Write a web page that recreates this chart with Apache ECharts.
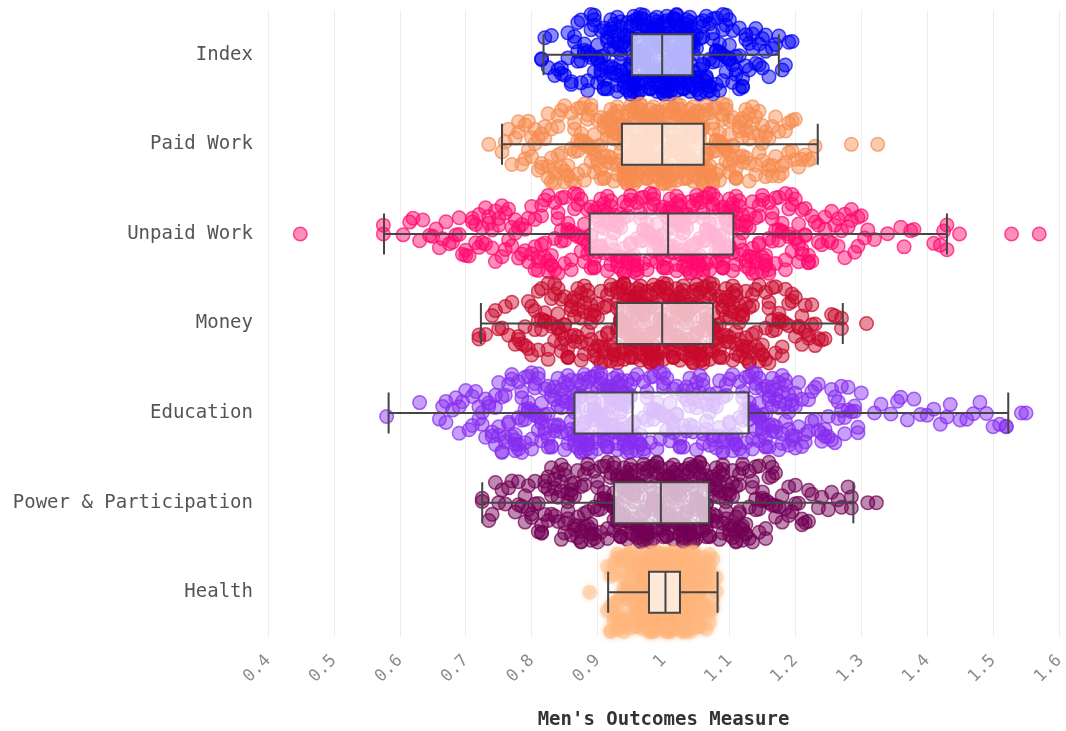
<!DOCTYPE html>
<html><head><meta charset="utf-8">
<script src="https://cdn.jsdelivr.net/npm/echarts@6/dist/echarts.min.js"></script>
<style>html,body{margin:0;padding:0;background:#fff}#c{width:1066px;height:731px}</style>
</head><body><div id="c"></div><script>
// ---- data ----
const CATEGORIES = ['Index', 'Paid Work', 'Unpaid Work', 'Money', 'Education', 'Power & Participation', 'Health'];
const X_TITLE = "Men's Outcomes Measure";

// box statistics per category (min whisker, Q1, median, Q3, max whisker)
const WHISKER_LOW  = [0.818, 0.755, 0.576, 0.723, 0.583, 0.725, 0.916];
const Q1           = [0.952, 0.937, 0.888, 0.929, 0.865, 0.925, 0.978];
const MEDIAN       = [0.998, 0.998, 1.007, 0.998, 0.953, 0.996, 1.003];
const Q3           = [1.044, 1.061, 1.106, 1.075, 1.129, 1.069, 1.025];
const WHISKER_HIGH = [1.175, 1.234, 1.430, 1.272, 1.523, 1.288, 1.082];

// observations, read as counts of points per 0.005-wide value step, from a start value,
// plus isolated outlying observations
const STEP = 0.005;
const INDEX_START = 0.815;
const INDEX_COUNTS = [2,1,1,1,1,1,2,1,2,2,2,3,3,3,3,4,4,4,5,5,5,5,6,6,6,6,6,
 9,9,9,9,9,9,9,9,9,9,
 10,10,10,10,10,10,10,10,10,
 6,6,6,6,5,5,5,5,4,4,4,4,3,3,3,3,3,2,2,2,2,2,2,1,1,1,1,1,1,1,1];
const INDEX_OUTLIERS = [];

const PAID_WORK_START = 0.755;
const PAID_WORK_COUNTS = [1,1,1,1,1,2,1,2,2,2,2,2,3,2,3,3,3,3,3,3,3,3,4,4,4,4,4,4,4,4,4,5,5,5,5,5,5,
 9,9,9,9,9,9,9,9,9,9,9,9,
 8,8,8,8,8,8,8,8,8,8,8,8,8,
 6,6,6,5,5,5,5,5,4,4,4,4,4,4,3,3,3,3,3,3,3,2,2,2,2,2,2,2,1,1,1,1,1,1];
const PAID_WORK_OUTLIERS = [0.735, 1.285, 1.325];

const UNPAID_WORK_START = 0.575;
const UNPAID_WORK_COUNTS = [2,0,0,0,0,0,1,0,1,1,0,1,1,0,1,1,1,1,1,1,1,1,1,
 2,1,2,1,2,2,2,2,2,2,2,2,
 2,2,2,2,2,2,2,2,2,2,2,
 3,3,3,3,3,3,3,3,3,3,3,3,3,3,3,3,3,
 5,4,5,4,5,4,5,4,5,4,5,4,5,4,5,4,5,4,5,4,5,4,5,4,
 6,5,6,5,6,5,6,5,6,5,6,5,6,5,6,5,6,5,6,5,
 4,4,4,4,4,4,4,4,4,4,4,
 3,3,3,3,3,3,3,3,3,3,3,3,
 2,1,2,1,2,1,2,1,2,1,2,1,2,1,2,1,
 1,1,0,1,0,0,0,1,0,0,0,1,1,0,1,1,0,0,0,0,0,1,0,1,1,2];
const UNPAID_WORK_OUTLIERS = [0.449, 1.449, 1.528, 1.57];

const MONEY_START = 0.72;
const MONEY_COUNTS = [2,0,1,0,1,1,1,1,1,1,1,1,
 2,1,2,2,2,2,
 3,3,3,3,3,3,
 4,4,4,4,4,4,4,4,
 4,4,4,4,4,4,4,4,4,4,
 8,8,8,8,8,8,8,8,8,8,8,8,8,8,
 7,7,7,7,7,7,7,7,7,7,7,7,7,7,7,7,
 5,5,5,5,5,5,5,5,5,5,5,
 3,3,3,3,3,3,3,3,3,3,
 2,2,2,2,2,2,2,2,2,2,
 1,1,1,0,1,1,0,2];
const MONEY_OUTLIERS = [1.308];

const EDUCATION_START = 0.58;
const EDUCATION_COUNTS = [1,0,0,0,0,0,0,0,0,0,1,0,0,0,0,0,
 1,1,2,0,1,1,2,1,1,1,2,1,2,2,2,2,2,
 3,3,3,3,3,3,
 4,4,4,4,4,4,4,4,4,4,4,4,4,4,4,4,4,4,
 7,6,7,6,7,6,7,6,7,6,7,6,7,6,7,6,7,6,
 4,3,3,4,3,3,4,3,3,4,3,3,4,3,3,4,3,3,4,3,3,4,3,3,4,3,3,4,3,3,4,3,3,4,3,
 5,5,5,5,5,5,5,5,4,4,4,4,4,4,4,
 2,2,2,2,2,2,2,2,2,2,2,2,2,2,2,2,1,2,2,1,
 0,0,0,1,0,1,0,0,1,0,1,1,0,1,0,1,0,1,0,1,0,1,0,1,0,1,1,0,0,1,0,1,0,1,0,1,0,1,0,1,0,1,0,2];
const EDUCATION_OUTLIERS = [1.543, 1.55];

const POWER_START = 0.725;
const POWER_COUNTS = [2,0,1,1,1,1,1,1,1,1,1,
 2,1,2,2,2,2,2,
 3,3,3,3,3,3,
 4,4,4,4,4,4,4,4,4,4,4,4,4,4,4,4,
 7,7,7,7,7,7,7,7,7,7,7,7,7,7,7,
 8,7,8,7,8,7,8,7,8,7,8,7,8,7,
 5,5,5,5,5,5,5,5,5,5,5,
 3,3,3,3,3,3,3,3,3,3,
 1,2,1,2,1,2,1,2,1,2,
 1,0,1,1,0,1,1,0,1,1,0,1,2];
const POWER_OUTLIERS = [1.31, 1.323];

const HEALTH_START = 0.915;
const HEALTH_COUNTS = [2,4,5,5,6,7,7,8,8,9,10,12,12,
 19,19,19,19,19,
 19,19,19,19,19,
 14,13,12,11,10,9,8,7,5,4,2];
const HEALTH_OUTLIERS = [0.888];

// vertical spread offsets (fraction of a category band)
const JITTER = [0.12,-0.31,0.38,-0.05,0.27,-0.42,0.02,0.33,-0.18,0.41,-0.27,0.08,-0.36,0.21,-0.11,0.44,-0.22,0.15,-0.39,0.05,0.3,-0.08,-0.33,0.24,0.36,-0.15,0.0,-0.43,0.18,-0.25,0.4,0.1,-0.37,0.28,-0.02,-0.2,0.34,-0.3,0.07,0.43,-0.13,0.22,-0.4,0.16,-0.06,0.31,-0.24,0.39,-0.16,0.04,-0.35,0.25,0.13,-0.44,0.35,-0.09,0.2,-0.28,0.42,-0.01,-0.19,0.29,-0.38,0.09,0.37,-0.12,-0.32,0.23,0.01,-0.41,0.32,-0.23,0.17,-0.04,0.44,-0.34,0.11,-0.17,0.26,-0.26,0.06,0.4,-0.07,-0.39,0.19,0.35,-0.14,-0.29,0.03,0.3,-0.21,0.14,-0.45,0.26,-0.1,0.38,-0.03];

const STARTS = [INDEX_START, PAID_WORK_START, UNPAID_WORK_START, MONEY_START, EDUCATION_START, POWER_START, HEALTH_START];
const COUNTS = [INDEX_COUNTS, PAID_WORK_COUNTS, UNPAID_WORK_COUNTS, MONEY_COUNTS, EDUCATION_COUNTS, POWER_COUNTS, HEALTH_COUNTS];
const OUTLIERS = [INDEX_OUTLIERS, PAID_WORK_OUTLIERS, UNPAID_WORK_OUTLIERS, MONEY_OUTLIERS, EDUCATION_OUTLIERS, POWER_OUTLIERS, HEALTH_OUTLIERS];

// ---- styles ----
const POINT_RGB = ['0,0,245', '246,140,80', '255,10,110', '200,10,45', '135,45,240', '115,0,85', '255,184,128'];
const FONT = 'DejaVu Sans Mono';

function buildPoints(ci) {
  const counts = COUNTS[ci];
  const pts = [];
  let n = 0;
  for (let k = 0; k < counts.length; k++) {
    // local density -> width of the vertical spread (sina style)
    let s = 0;
    for (let j = k - 2; j <= k + 2; j++) s += (counts[j] || 0);
    const d = s / 5;
    const spread = Math.min(1, 0.25 + 0.75 * d / 3);
    const v = +(STARTS[ci] + k * STEP).toFixed(3);
    for (let c = 0; c < counts[k]; c++) {
      pts.push([v, ci + spread * JITTER[(n * 31 + ci * 13) % JITTER.length]]);
      n++;
    }
  }
  OUTLIERS[ci].forEach(v => pts.push([v, ci]));
  return pts;
}

const scatterSeries = CATEGORIES.map((name, ci) => {
  const rgb = POINT_RGB[ci];
  const isHealth = ci === 6;
  return {
    type: 'scatter',
    name: name,
    xAxisIndex: 0,
    yAxisIndex: 1,
    symbolSize: isHealth ? 15 : 13.5,
    z: 2,
    silent: true,
    itemStyle: isHealth ? {
      color: 'rgba(' + rgb + ',0.55)',
      shadowBlur: 5,
      shadowColor: 'rgba(' + rgb + ',0.8)'
    } : {
      color: 'rgba(' + rgb + ',0.58)',
      borderColor: 'rgba(' + rgb + ',0.9)',
      borderWidth: 1.5
    },
    data: buildPoints(ci)
  };
});

const boxData = CATEGORIES.map((c, i) => [WHISKER_LOW[i], Q1[i], MEDIAN[i], Q3[i], WHISKER_HIGH[i]]);

const option = {
  backgroundColor: '#ffffff',
  animation: false,
  grid: { left: 268, right: 7, top: 10, bottom: 94, outerBoundsMode: 'none', containLabel: false },
  xAxis: {
    type: 'value',
    min: 0.4, max: 1.6, interval: 0.1,
    name: X_TITLE,
    nameLocation: 'middle',
    nameGap: 74,
    nameTextStyle: { fontFamily: FONT, fontWeight: 'bold', fontSize: 19, color: '#333' },
    axisLine: { show: false },
    axisTick: { show: false },
    axisLabel: { rotate: 45, fontFamily: FONT, fontSize: 17, color: '#8c8c8c', margin: 21 },
    splitLine: { show: true, lineStyle: { color: '#eeeeee', width: 1 } }
  },
  yAxis: [{
    type: 'category',
    data: CATEGORIES,
    inverse: true,
    axisLine: { show: false },
    axisTick: { show: false },
    axisLabel: { fontFamily: FONT, fontSize: 19, color: '#555', margin: 15 },
    splitLine: { show: false }
  }, {
    type: 'value',
    min: -0.5, max: 6.5,
    inverse: true,
    show: false
  }],
  series: scatterSeries.concat([{
    type: 'boxplot',
    xAxisIndex: 0,
    yAxisIndex: 0,
    z: 5,
    silent: true,
    boxWidth: [41, 41],
    itemStyle: { color: 'rgba(255,255,255,0.7)', borderColor: '#454545', borderWidth: 2 },
    data: boxData
  }])
};

const chart = echarts.init(document.getElementById('c'), null, { renderer: 'canvas' });
chart.setOption(option);
</script></body></html>
